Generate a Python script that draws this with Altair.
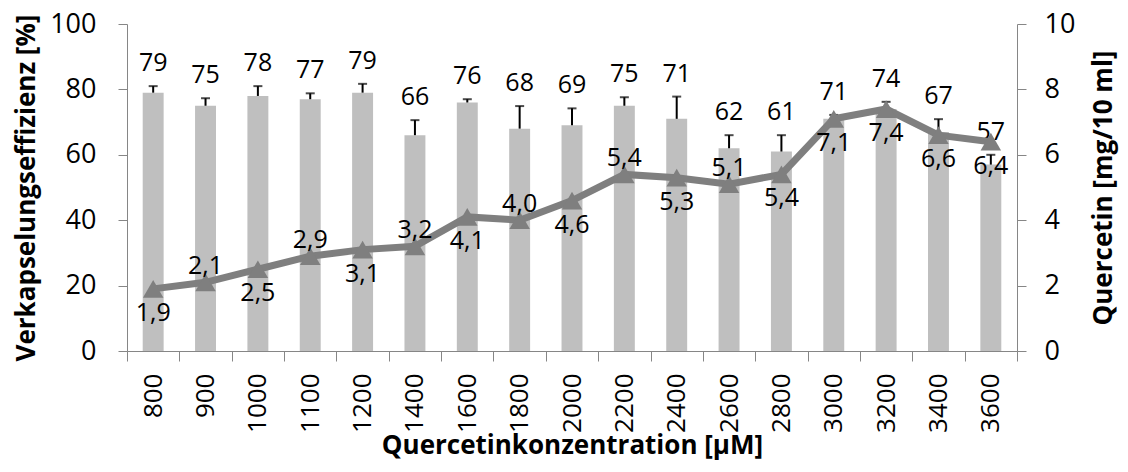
import altair as alt
import pandas as pd

conc = ["800", "900", "1000", "1100", "1200", "1400", "1600", "1800", "2000",
        "2200", "2400", "2600", "2800", "3000", "3200", "3400", "3600"]
efficiency = [79, 75, 78, 77, 79, 66, 76, 68, 69, 75, 71, 62, 61, 71, 74, 67, 57]
eff_error = [2.0, 2.3, 3.0, 1.8, 2.7, 4.6, 1.0, 6.9, 5.2, 2.6, 6.8, 4.0, 5.0, 1.2, 2.2, 3.9, 3.0]
quercetin = [1.9, 2.1, 2.5, 2.9, 3.1, 3.2, 4.1, 4.0, 4.6, 5.4, 5.3, 5.1, 5.4, 7.1, 7.4, 6.6, 6.4]
q_label_side = ["below", "above", "below", "above", "below", "above", "below", "above", "below",
                "above", "below", "above", "below", "below", "below", "below", "below"]

df = pd.DataFrame({
    "conc": conc,
    "eff": efficiency,
    "err_top": [e + d for e, d in zip(efficiency, eff_error)],
    "eff_label": [str(v) for v in efficiency],
    "q": quercetin,
    "q_label": [f"{v:.1f}".replace(".", ",") for v in quercetin],
    "side": q_label_side,
})

FONT = "Open Sans"
AXIS_GRAY = "#868686"
Y_LABEL_SIZE = 27
X_LABEL_SIZE = 26
TITLE_SIZE = 26

x_scale = alt.Scale(domain=conc, paddingInner=0, paddingOuter=0)
x_axis = alt.Axis(
    title="Quercetinkonzentration [µM]", labelAngle=-90, tickBand="extent",
    tickSize=10, labelPadding=12, titlePadding=0, domainColor=AXIS_GRAY,
    tickColor=AXIS_GRAY, labelFontSize=X_LABEL_SIZE, labelFont=FONT, labelColor="black",
    titleFont=FONT, titleFontSize=TITLE_SIZE, titleFontWeight="bold", titleColor="black",
)
X = alt.X("conc:N", sort=conc, scale=x_scale, axis=x_axis)

y_left_scale = alt.Scale(domain=[0, 100], nice=False, zero=True)
y_left_axis = alt.Axis(
    title="Verkapselungseffizienz [%]", values=[0, 20, 40, 60, 80, 100], grid=False,
    orient="left",
    tickSize=9, labelPadding=22, titlePadding=10, domainColor=AXIS_GRAY,
    tickColor=AXIS_GRAY, labelFontSize=Y_LABEL_SIZE, labelFont=FONT, labelColor="black",
    titleFont=FONT, titleFontSize=TITLE_SIZE, titleFontWeight="bold", titleColor="black",
)
y_right_scale = alt.Scale(domain=[0, 10], nice=False, zero=True)
y_right_axis = alt.Axis(
    title="Quercetin [mg/10 ml]", orient="right", values=[0, 2, 4, 6, 8, 10], grid=False,
    titleAngle=270,
    tickSize=9, labelPadding=18, titlePadding=42, domainColor=AXIS_GRAY,
    tickColor=AXIS_GRAY, labelFontSize=Y_LABEL_SIZE, labelFont=FONT, labelColor="black",
    titleFont=FONT, titleFontSize=TITLE_SIZE, titleFontWeight="bold", titleColor="black",
)

base = alt.Chart(df)

bars = base.mark_bar(color="#bfbfbf", width=alt.RelativeBandSize(0.4)).encode(
    x=X, y=alt.Y("eff:Q", scale=y_left_scale, axis=y_left_axis)
)
err = base.mark_rule(color="black", strokeWidth=2).encode(
    x=X, y=alt.Y("eff:Q", scale=y_left_scale, axis=None), y2="err_top:Q"
)
cap = base.mark_tick(color="black", thickness=2, size=9, orient="horizontal").encode(
    x=X, y=alt.Y("err_top:Q", scale=y_left_scale, axis=None)
)
bar_text = base.mark_text(
    font=FONT, fontSize=25, color="black", baseline="alphabetic", dy=-15
).encode(
    x=X, y=alt.Y("err_top:Q", scale=y_left_scale, axis=None), text="eff_label:N"
)

LINE_GRAY = "#7f7f7f"
line = base.mark_line(color=LINE_GRAY, strokeWidth=7).encode(
    x=X, y=alt.Y("q:Q", scale=y_right_scale, axis=y_right_axis)
)
pts = base.mark_point(
    shape="triangle-up", filled=True, color=LINE_GRAY, opacity=1, size=420
).encode(x=X, y=alt.Y("q:Q", scale=y_right_scale, axis=None))
txt_above = base.transform_filter(alt.datum.side == "above").mark_text(
    font=FONT, fontSize=25, color="black", baseline="middle", dy=-16
).encode(x=X, y=alt.Y("q:Q", scale=y_right_scale, axis=None), text="q_label:N")
txt_below = base.transform_filter(alt.datum.side == "below").mark_text(
    font=FONT, fontSize=25, color="black", baseline="middle", dy=24
).encode(x=X, y=alt.Y("q:Q", scale=y_right_scale, axis=None), text="q_label:N")

chart = alt.layer(
    bars, err, cap, bar_text, line, pts, txt_above, txt_below
).resolve_scale(y="independent").resolve_axis(y="independent").properties(
    width=890, height=327,
    background="white",
    autosize=alt.AutoSizeParams(type="none"),
    padding={"left": 119, "top": 16, "right": 103, "bottom": 113},
).configure_view(stroke=None)

chart.save("out.html", embed_options={"renderer": "svg", "actions": False})
